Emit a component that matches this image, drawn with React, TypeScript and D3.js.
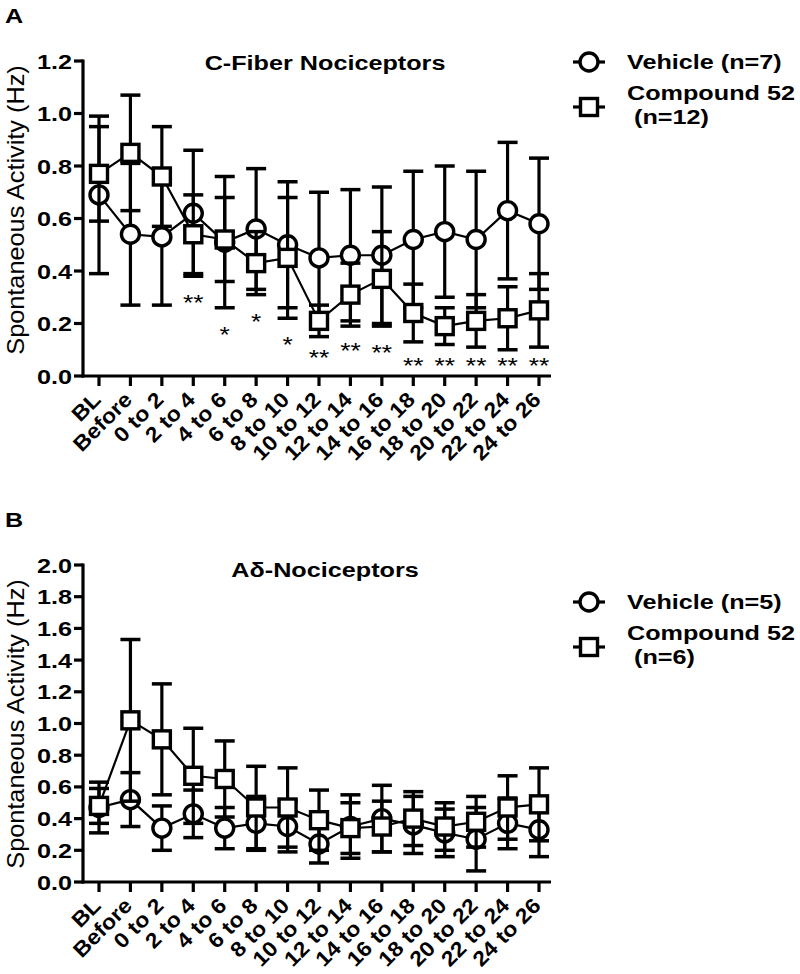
import React from "react";
import * as d3 from "d3";

const categories = ["BL","Before","0 to 2","2 to 4","4 to 6","6 to 8","8 to 10","10 to 12","12 to 14","14 to 16","16 to 18","18 to 20","20 to 22","22 to 24","24 to 26"];

// Panel A: C-Fiber Nociceptors
const aVehicleMean = [0.69,0.54,0.53,0.62,0.51,0.56,0.50,0.45,0.46,0.46,0.52,0.55,0.52,0.63,0.58];
const aVehicleErr  = [0.30,0.27,0.26,0.24,0.25,0.23,0.24,0.25,0.25,0.26,0.26,0.25,0.26,0.26,0.25];
const aCompoundMean = [0.77,0.85,0.76,0.54,0.52,0.43,0.45,0.21,0.31,0.37,0.24,0.19,0.21,0.22,0.25];
const aCompoundErr  = [0.18,0.22,0.19,0.15,0.16,0.12,0.23,0.06,0.12,0.18,0.11,0.07,0.10,0.12,0.14];
const aSigLabels = ["","","","**","*","*","*","**","**","**","**","**","**","**","**"];
const aSigY = [0,0,0,0.30,0.18,0.23,0.14,0.09,0.12,0.11,0.06,0.06,0.06,0.06,0.06];
const aTicks = [0,0.2,0.4,0.6,0.8,1.0,1.2];

// Panel B: Aδ-Nociceptors
const bVehicleMean = [0.47,0.52,0.34,0.43,0.34,0.37,0.35,0.24,0.35,0.40,0.36,0.31,0.27,0.37,0.33];
const bVehicleErr  = [0.16,0.17,0.14,0.15,0.13,0.17,0.16,0.12,0.20,0.21,0.18,0.15,0.20,0.16,0.17];
const bCompoundMean = [0.48,1.02,0.90,0.67,0.65,0.47,0.47,0.39,0.34,0.35,0.40,0.35,0.38,0.47,0.49];
const bCompoundErr  = [0.11,0.51,0.35,0.30,0.24,0.26,0.25,0.19,0.16,0.16,0.17,0.15,0.16,0.20,0.23];
const bTicks = [0,0.2,0.4,0.6,0.8,1.0,1.2,1.4,1.6,1.8,2.0];

const FONT = "'Liberation Sans', Arial, Helvetica, sans-serif";
const SX = 1.2;

type TProps = { x: number; y: number; rot?: number; anchor?: string; size: number; bold?: boolean; sx?: number; children: React.ReactNode };
function T({ x, y, rot = 0, anchor = "start", size, bold = true, sx = SX, children }: TProps) {
  return (
    <text transform={`translate(${x},${y}) rotate(${rot}) scale(${sx},1)`} textAnchor={anchor}
      fontFamily={FONT} fontWeight={bold ? "bold" : "normal"} fontSize={size} xmlSpace="preserve">{children}</text>
  );
}

type PanelProps = {
  letter: string;
  title: string;
  top: number;
  bottom: number;
  yMax: number;
  ticks: number[];
  vMean: number[]; vErr: number[];
  cMean: number[]; cErr: number[];
  sigLabels?: string[]; sigY?: number[];
  legendV: string; legendC1: string; legendC2: string;
  letterY: number; titleY: number;
  legendY: number; yTitleC: number;
};

function Panel(p: PanelProps) {
  const x = d3.scalePoint<string>().domain(categories).range([99, 539]);
  const y = d3.scaleLinear().domain([0, p.yMax]).range([p.bottom, p.top]);
  const axisX = 83;
  const line = d3.line<number>().x((_, i) => x(categories[i])!).y((d) => y(d));
  const capW = 10;
  const r = 9;
  const sq = 17;

  const errBars = (mean: number[], err: number[], key: string) =>
    mean.map((m, i) => {
      const cx = x(categories[i])!;
      const y1 = y(m + err[i]);
      const y0 = y(m - err[i]);
      return (
        <g key={key + i}>
          <line x1={cx} x2={cx} y1={y1} y2={y0} stroke="#000" strokeWidth={3.2} />
          <line x1={cx - capW} x2={cx + capW} y1={y1} y2={y1} stroke="#000" strokeWidth={3.5} />
          <line x1={cx - capW} x2={cx + capW} y1={y0} y2={y0} stroke="#000" strokeWidth={3.5} />
        </g>
      );
    });

  return (
    <g>
      <T x={5} y={p.letterY} size={21}>{p.letter}</T>
      <T x={325} y={p.titleY} anchor="middle" size={21}>{p.title}</T>
      {/* y axis */}
      <line x1={axisX} x2={axisX} y1={p.top - 1.5} y2={p.bottom + 1.5} stroke="#000" strokeWidth={3.2} />
      {p.ticks.map((t) => (
        <g key={"yt" + t}>
          <line x1={axisX - 9} x2={axisX} y1={y(t)} y2={y(t)} stroke="#000" strokeWidth={3.2} />
          <T x={72} y={y(t) + 7.5} anchor="end" size={21}>{t.toFixed(1)}</T>
        </g>
      ))}
      <T x={24} y={p.yTitleC} rot={-90} anchor="middle" size={23} sx={1.1} bold={false}>Spontaneous Activity (Hz)</T>
      {/* x axis */}
      <line x1={axisX - 1.5} x2={551} y1={p.bottom} y2={p.bottom} stroke="#000" strokeWidth={3.2} />
      {categories.map((c) => (
        <g key={"xt" + c}>
          <line x1={x(c)!} x2={x(c)!} y1={p.bottom} y2={p.bottom + 10} stroke="#000" strokeWidth={3.2} />
          <T x={x(c)! + 3} y={p.bottom + 25} rot={-45} anchor="end" size={21} sx={1.1}>{c}</T>
        </g>
      ))}
      {/* vehicle */}
      {errBars(p.vMean, p.vErr, "ve")}
      <path d={line(p.vMean)!} fill="none" stroke="#000" strokeWidth={2.2} />
      {p.vMean.map((m, i) => (
        <circle key={"vc" + i} cx={x(categories[i])!} cy={y(m)} r={r} fill="#fff" stroke="#000" strokeWidth={3.4} />
      ))}
      {/* compound */}
      {errBars(p.cMean, p.cErr, "ce")}
      <path d={line(p.cMean)!} fill="none" stroke="#000" strokeWidth={2.2} />
      {p.cMean.map((m, i) => (
        <rect key={"cs" + i} x={x(categories[i])! - sq / 2} y={y(m) - sq / 2} width={sq} height={sq} fill="#fff" stroke="#000" strokeWidth={3.4} />
      ))}
      {p.sigLabels && p.sigY && p.sigLabels.map((s, i) => s ? (
        <T key={"sig" + i} x={x(categories[i])!} y={y(p.sigY![i]) + 13} anchor="middle" size={22} bold={false}>{s}</T>
      ) : null)}
      {/* legend */}
      <g>
        <line x1={573} x2={605} y1={p.legendY} y2={p.legendY} stroke="#000" strokeWidth={3.2} />
        <circle cx={589} cy={p.legendY} r={r} fill="#fff" stroke="#000" strokeWidth={3.4} />
        <T x={627} y={p.legendY + 7} size={21}>{p.legendV}</T>
        <line x1={573} x2={605} y1={p.legendY + 45} y2={p.legendY + 45} stroke="#000" strokeWidth={3.2} />
        <rect x={589 - sq / 2} y={p.legendY + 45 - sq / 2} width={sq} height={sq} fill="#fff" stroke="#000" strokeWidth={3.4} />
        <T x={627} y={p.legendY + 38} size={21}>{p.legendC1}</T>
        <T x={627} y={p.legendY + 62} size={21}>{p.legendC2}</T>
      </g>
    </g>
  );
}

export default function App() {
  return (
    <svg width={800} height={974} style={{ display: "block", position: "absolute", left: 0, top: 0, background: "#fff" }}>
      <rect x={0} y={0} width={800} height={974} fill="#fff" />
      <Panel letter="A" title="C-Fiber Nociceptors" top={61} bottom={376} yMax={1.2} ticks={aTicks}
        vMean={aVehicleMean} vErr={aVehicleErr} cMean={aCompoundMean} cErr={aCompoundErr}
        sigLabels={aSigLabels} sigY={aSigY}
        legendV="Vehicle (n=7)" legendC1="Compound 52" legendC2=" (n=12)"
        letterY={23} titleY={70} legendY={62} yTitleC={210} />
      <Panel letter="B" title="Aδ-Nociceptors" top={565} bottom={882} yMax={2.0} ticks={bTicks}
        vMean={bVehicleMean} vErr={bVehicleErr} cMean={bCompoundMean} cErr={bCompoundErr}
        legendV="Vehicle (n=5)" legendC1="Compound 52" legendC2=" (n=6)"
        letterY={527} titleY={577} legendY={602} yTitleC={724} />
    </svg>
  );
}
